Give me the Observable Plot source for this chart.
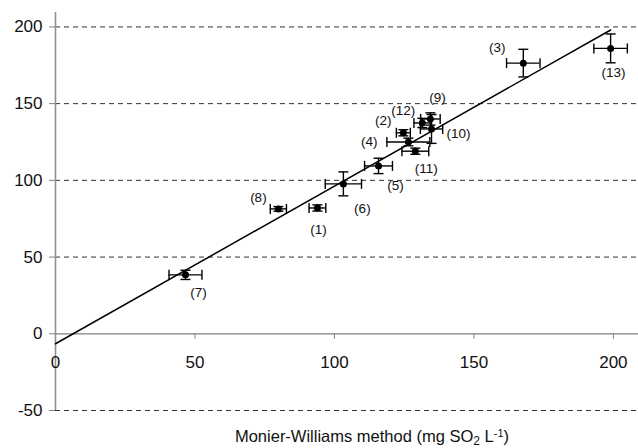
<!DOCTYPE html>
<html>
<head>
<meta charset="utf-8">
<script src="https://cdn.jsdelivr.net/npm/d3@7"></script>
<script src="https://cdn.jsdelivr.net/npm/@observablehq/plot@0.6"></script>
<style>
  html, body { margin: 0; padding: 0; background: #fff; }
</style>
</head>
<body>
<div id="chart"></div>
<script>
// ---- data ----
const sampleIds = [1, 2, 3, 4, 5, 6, 7, 8, 9, 10, 11, 12, 13];
const monierWilliams = [93.9, 124.7, 167.7, 126.5, 115.8, 103.2, 46.6, 79.9, 134.4, 134.8, 129.0, 131.5, 199.0];
const newMethod      = [82.0, 131.0, 176.4, 125.0, 109.4, 97.7, 38.4, 81.4, 140.0, 133.5, 119.0, 137.4, 186.0];
const errX           = [3.0, 2.5, 6.0, 7.7, 5.0, 6.5, 5.9, 2.9, 3.5, 4.0, 4.8, 3.0, 6.0];
const errY           = [2.0, 2.0, 9.0, 2.5, 5.0, 7.8, 3.0, 1.5, 4.0, 9.4, 2.0, 3.0, 9.4];
// regression line end points
const fitX = [0, 199];
const fitY = [-6.5, 198];
// ticks
const xTicks = [0, 50, 100, 150, 200];
const yTicks = [-50, 0, 50, 100, 150, 200];
const gridY = [-50, 50, 100, 150, 200];
// label offsets (pixels) relative to each point
const labelDx = [1, -20, -26, -39, 17, 19, 13, -20, 7, 27, 11, -19, 3];
const labelDy = [22, -12, -15, 0, 20, 25, 18, -11, -21, 5, 17, -12, 24];

const points = sampleIds.map((id, i) => ({
  id, x: monierWilliams[i], y: newMethod[i], ex: errX[i], ey: errY[i],
  ldx: labelDx[i], ldy: labelDy[i]
}));
const fit = fitX.map((x, i) => ({x, y: fitY[i]}));

const vbar = {draw(ctx, size) { const r = Math.sqrt(size / Math.PI); ctx.moveTo(0, -r); ctx.lineTo(0, r); }};
const hbar = {draw(ctx, size) { const r = Math.sqrt(size / Math.PI); ctx.moveTo(-r, 0); ctx.lineTo(r, 0); }};

const font = "'Liberation Sans', Arial, sans-serif";

const chart = Plot.plot({
  width: 638,
  height: 448,
  marginLeft: 55,
  marginRight: 0,
  marginTop: 12,
  marginBottom: 38,
  x: {domain: [0, 209], axis: null},
  y: {domain: [-50, 209.4], axis: null},
  style: {fontFamily: font, fontSize: "13px", background: "#fff", color: "#111"},
  marks: [
    Plot.ruleY(gridY, {y: d => d, stroke: "#333", strokeWidth: 1, strokeDasharray: "5,4"}),
    Plot.ruleY([0], {stroke: "#808080", strokeWidth: 1.3}),
    Plot.ruleX([0], {y1: -50, y2: 209.4, stroke: "#909090", strokeWidth: 1.6}),
    Plot.axisY({ticks: yTicks, tickSize: 6, tickPadding: 7, fontSize: 17, label: null, stroke: "#808080", tickFormat: d => String(d).replace("−", "-")}),
    Plot.ruleX(xTicks.filter(d => d !== 0), {x: d => d, y1: 0, y2: -3.6, stroke: "#808080"}),
    Plot.text(xTicks, {x: d => d, y: 0, text: d => String(d), dy: 29, fontSize: 17, fill: "#111"}),
    Plot.line(fit, {x: "x", y: "y", stroke: "#000", strokeWidth: 1.5}),
    // error bars
    Plot.ruleY(points, {y: "y", x1: d => d.x - d.ex, x2: d => d.x + d.ex, stroke: "#000", strokeWidth: 1.4}),
    Plot.ruleX(points, {x: "x", y1: d => d.y - d.ey, y2: d => d.y + d.ey, stroke: "#000", strokeWidth: 1.4}),
    Plot.dot(points, {x: d => d.x - d.ex, y: "y", symbol: vbar, r: 5, stroke: "#000", fill: "none", strokeWidth: 1.4}),
    Plot.dot(points, {x: d => d.x + d.ex, y: "y", symbol: vbar, r: 5, stroke: "#000", fill: "none", strokeWidth: 1.4}),
    Plot.dot(points, {x: "x", y: d => d.y - d.ey, symbol: hbar, r: 5, stroke: "#000", fill: "none", strokeWidth: 1.4}),
    Plot.dot(points, {x: "x", y: d => d.y + d.ey, symbol: hbar, r: 5, stroke: "#000", fill: "none", strokeWidth: 1.4}),
    Plot.dot(points, {x: "x", y: "y", r: 3.5, fill: "#000", stroke: "none"}),
    ...points.map(p => Plot.text([p], {x: "x", y: "y", text: d => `(${d.id})`, dx: p.ldx, dy: p.ldy, fontSize: 13.5, fill: "#111"}))
  ]
});

// x-axis title with subscript / superscript
const ns = "http://www.w3.org/2000/svg";
const t = document.createElementNS(ns, "text");
t.setAttribute("x", 372);
t.setAttribute("y", 442);
t.setAttribute("text-anchor", "middle");
t.setAttribute("font-size", "16.5");
t.setAttribute("font-family", font);
t.setAttribute("fill", "#111");
const parts = [
  ["Monier-Williams method (mg SO", null],
  ["2", "sub"],
  [" L", null],
  ["-1", "sup"],
  [")", null]
];
for (const [s, kind] of parts) {
  const ts = document.createElementNS(ns, "tspan");
  ts.textContent = s;
  if (kind === "sub") { ts.setAttribute("baseline-shift", "-25%"); ts.setAttribute("font-size", "12"); }
  if (kind === "sup") { ts.setAttribute("baseline-shift", "45%"); ts.setAttribute("font-size", "11"); }
  t.appendChild(ts);
}
chart.appendChild(t);

document.getElementById("chart").appendChild(chart);
</script>
</body>
</html>
